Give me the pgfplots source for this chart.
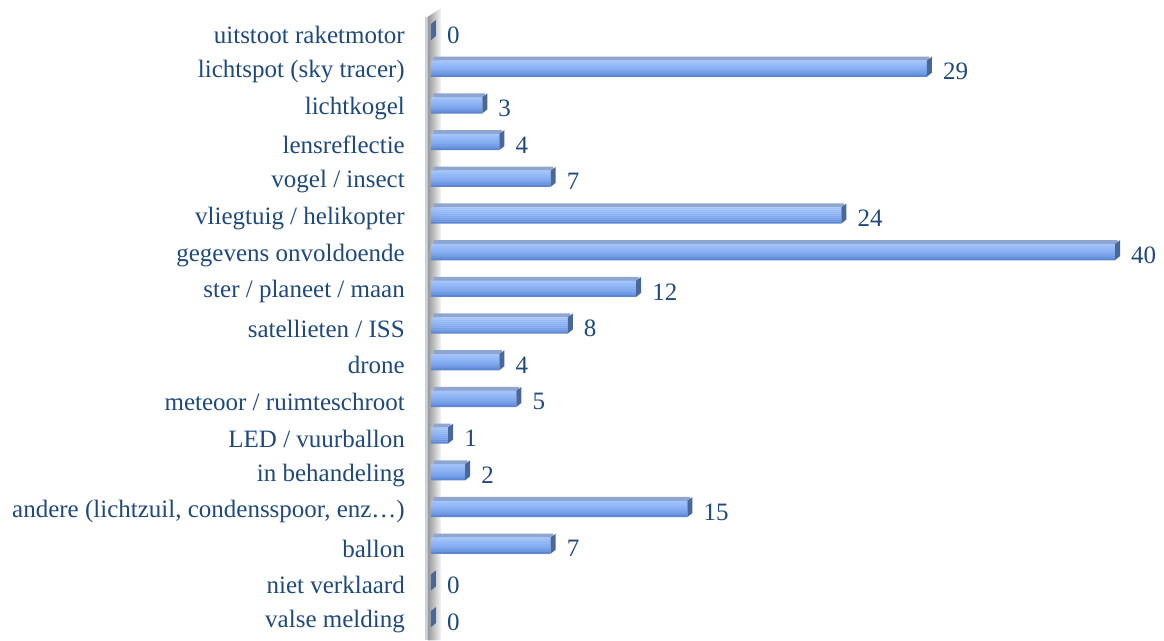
\documentclass[border=0pt]{standalone}
\usepackage{fontspec}
\setmainfont{Liberation Serif}
\usepackage{pgfplots}
\pgfplotsset{compat=1.18}
\definecolor{txt}{HTML}{1F497D}
\definecolor{topface}{HTML}{8EA5CF}
\definecolor{endface}{HTML}{4A6799}
\definecolor{wallfront}{HTML}{C9D1DC}
\definecolor{s7}{HTML}{A2C3F8}
\definecolor{s6}{HTML}{98BCF7}
\definecolor{s5}{HTML}{90B6F5}
\definecolor{s4}{HTML}{89B0F2}
\definecolor{s3}{HTML}{81A9EE}
\definecolor{s2}{HTML}{78A0E8}
\definecolor{s1}{HTML}{6D96E2}
\definecolor{s0}{HTML}{5A86D2}
\pgfdeclareplotmark{endface}{%
  \pgfpathmoveto{\pgfpoint{0pt}{-5pt}}%
  \pgfpathlineto{\pgfpoint{5pt}{-1pt}}%
  \pgfpathlineto{\pgfpoint{5pt}{15pt}}%
  \pgfpathlineto{\pgfpoint{0pt}{11pt}}%
  \pgfpathclose
  \pgfusepath{fill}}
\pgfplotstableread{
y v
0 0
1 0
2 7
3 15
4 2
5 1
6 5
7 4
8 8
9 12
10 40
11 24
12 7
13 4
14 3
15 29
16 0
}\data
\begin{document}
\begin{tikzpicture}
\begin{axis}[
  scale only axis, width=684pt, height=623.7pt,
  xmin=0, xmax=40, ymin=-0.5, ymax=16.5,
  clip=false,
  axis line style={draw=none},
  tick style={draw=none},
  xtick=\empty,
  ytick={0,...,16},
  yticklabels={valse melding, niet verklaard, ballon, {andere (lichtzuil, condensspoor, enz…)}, in behandeling, LED / vuurballon, meteoor / ruimteschroot, drone, satellieten / ISS, ster / planeet / maan, gegevens onvoldoende, vliegtuig / helikopter, vogel / insect, lensreflectie, lichtkogel, lichtspot (sky tracer), uitstoot raketmotor},
  yticklabel style={font=\fontsize{25}{30}\selectfont, text=txt, inner sep=0pt, anchor=east, xshift=-26pt},
  strip/.style={xbar, bar width=2.3pt, draw=none, fill=#1},
]
% wall
\fill[wallfront] ([xshift=-6pt]axis cs:0,-0.5) rectangle ([xshift=-3pt]axis cs:0,16.5);
\shade[left color=gray!80, right color=gray!8] ([xshift=-3pt]axis cs:0,-0.5) -- ([xshift=-3pt]axis cs:0,16.5) -- ([xshift=10pt,yshift=8.6pt]axis cs:0,16.5) -- ([xshift=10pt]axis cs:0,-0.5) -- cycle;
% top face
\addplot[xbar, bar width=4pt, bar shift=13pt, draw=none, fill=topface, xshift=2.5pt] table[x=v,y=y] {\data};
% front face, in horizontal strips for the gradient
\addplot[strip=s0, bar shift=-4pt] table[x=v,y=y] {\data};
\addplot[strip=s1, bar shift=-2pt] table[x=v,y=y] {\data};
\addplot[strip=s2, bar shift=0pt] table[x=v,y=y] {\data};
\addplot[strip=s3, bar shift=2pt] table[x=v,y=y] {\data};
\addplot[strip=s4, bar shift=4pt] table[x=v,y=y] {\data};
\addplot[strip=s5, bar shift=6pt] table[x=v,y=y] {\data};
\addplot[strip=s6, bar shift=8pt] table[x=v,y=y] {\data};
\addplot[strip=s7, bar shift=10pt] table[x=v,y=y] {\data};
% end face and labels
\addplot[only marks, mark=endface, color=endface,
  nodes near coords, point meta=explicit symbolic,
  every node near coord/.style={anchor=west, inner sep=0pt, xshift=16pt, text=txt, font=\fontsize{25}{30}\selectfont}
  ] table[x=v,y=y,meta=v] {\data};
\coordinate (o) at (axis cs:0,-0.5);
\end{axis}
\pgfresetboundingbox
\path (o) ++(-431pt,4.35pt) rectangle ++(1164pt,636pt);
\end{tikzpicture}
\end{document}
